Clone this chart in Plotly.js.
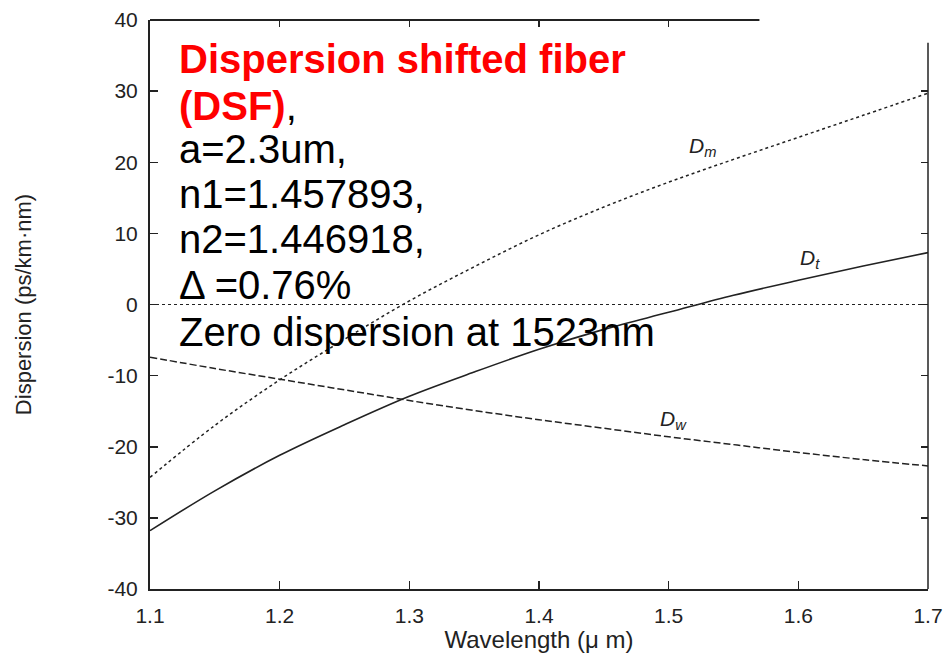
<!DOCTYPE html>
<html>
<head>
<meta charset="utf-8">
<script src="https://cdn.plot.ly/plotly-3.0.1.min.js"></script>
<style>html,body{margin:0;padding:0;background:#fff;}#chart{width:947px;height:653px;}</style>
</head>
<body>
<div id="chart"></div>
<script>
// Wavelength (µm)
var wavelength = [1.10, 1.15, 1.20, 1.25, 1.30, 1.35, 1.40, 1.45, 1.50, 1.55, 1.60, 1.65, 1.70];
// Material dispersion Dm
var Dm = [-24.3, -17.0, -10.6, -4.9, 0.5, 5.3, 9.8, 13.7, 17.2, 20.4, 23.5, 26.6, 29.7];
// Total dispersion Dt
var Dt = [-31.8, -26.2, -21.2, -16.9, -12.9, -9.5, -6.3, -3.5, -1.1, 1.3, 3.4, 5.4, 7.3];
// Waveguide dispersion Dw
var Dw = [-7.4, -9.0, -10.5, -12.0, -13.5, -14.9, -16.2, -17.4, -18.6, -19.7, -20.8, -21.8, -22.7];

var xTicks = [1.1, 1.2, 1.3, 1.4, 1.5, 1.6, 1.7];
var xTickText = ['1.1', '1.2', '1.3', '1.4', '1.5', '1.6', '1.7'];
var yTicks = [-40, -30, -20, -10, 0, 10, 20, 30, 40];
var yTickText = ['-40', '-30', '-20', '-10', '0', '10', '20', '30', '40'];
var infoLines = [
  '<b>Dispersion shifted fiber</b>',
  '<b>(DSF)</b><span style="color:#000">,</span>',
  'a=2.3um,',
  'n1=1.457893,',
  'n2=1.446918,',
  '\u0394 =0.76%',
  'Zero dispersion at 1523nm'
];
var infoColors = ['#ff0000', '#ff0000', '#000', '#000', '#000', '#000', '#000'];
var infoY = [34.5, 27.9, 21.9, 15.5, 9.2, 2.7, -3.9];

var FONT = 'Liberation Sans, Arial, Helvetica, sans-serif';
var INK = '#222';

var traces = [
  {x: wavelength, y: Dm, mode: 'lines', name: 'Dm', line: {color: INK, width: 1.5, dash: '3px,3px', shape: 'spline'}},
  {x: wavelength, y: Dt, mode: 'lines', name: 'Dt', line: {color: INK, width: 1.6, shape: 'spline'}},
  {x: wavelength, y: Dw, mode: 'lines', name: 'Dw', line: {color: INK, width: 1.5, dash: '7px,3px', shape: 'spline'}},
  {x: [1.1], y: [0], xaxis: 'x2', yaxis: 'y2', mode: 'markers', marker: {opacity: 0}, hoverinfo: 'skip', showlegend: false}
];

var annotations = [];
for (var i = 0; i < infoLines.length; i++) {
  annotations.push({
    x: 1.1208, y: infoY[i], xref: 'x', yref: 'y', xanchor: 'left', yanchor: 'middle',
    text: infoLines[i], showarrow: false,
    font: {family: FONT, size: 40, color: infoColors[i]}
  });
}
annotations.push({x: 1.526, y: 22.1, text: '<i>D<sub>m</sub></i>', showarrow: false, font: {family: FONT, size: 21, color: INK}});
annotations.push({x: 1.609, y: 6.4, text: '<i>D<sub>t</sub></i>', showarrow: false, font: {family: FONT, size: 21, color: INK}});
annotations.push({x: 1.504, y: -16.3, text: '<i>D<sub>w</sub></i>', showarrow: false, font: {family: FONT, size: 21, color: INK}});

var layout = {
  width: 947, height: 653,
  margin: {l: 150, r: 19, t: 20, b: 64},
  paper_bgcolor: '#fff', plot_bgcolor: '#fff',
  showlegend: false,
  font: {family: FONT, color: INK},
  xaxis: {
    range: [1.1, 1.7], tickvals: xTicks, ticktext: xTickText,
    ticks: 'inside', ticklen: 8, tickwidth: 1.5, tickcolor: INK,
    showline: true, linewidth: 2, linecolor: INK, showgrid: false, zeroline: false,
    tickfont: {size: 21, color: INK}, ticklabelstandoff: 7,
    title: {text: 'Wavelength (\u03bc m)', font: {size: 24, color: INK}, standoff: 4}
  },
  yaxis: {
    range: [-40, 40], tickvals: yTicks, ticktext: yTickText,
    ticks: 'inside', ticklen: 8, tickwidth: 1.5, tickcolor: INK,
    showline: true, linewidth: 2, linecolor: INK, showgrid: false, zeroline: false,
    tickfont: {size: 21, color: INK}, ticklabelstandoff: 6,
    title: {text: 'Dispersion (ps/km\u00b7nm)', font: {size: 22, color: INK}, standoff: 70}
  },
  xaxis2: {
    overlaying: 'x', side: 'top', anchor: 'y', range: [1.1, 1.7], tickvals: [1.2, 1.3, 1.4, 1.5],
    ticks: 'inside', ticklen: 7, tickwidth: 1.5, tickcolor: INK,
    showticklabels: false, showline: false, showgrid: false, zeroline: false
  },
  yaxis2: {
    overlaying: 'y', side: 'right', anchor: 'x', range: [-40, 40], tickvals: [-30, -20, -10, 0, 10, 20, 30],
    ticks: 'inside', ticklen: 7, tickwidth: 1.5, tickcolor: INK,
    showticklabels: false, showline: false, showgrid: false, zeroline: false
  },
  shapes: [
    {type: 'line', xref: 'x', yref: 'y', x0: 1.1, x1: 1.7, y0: 0, y1: 0, line: {color: INK, width: 1, dash: 'dot'}},
    {type: 'line', xref: 'x', yref: 'paper', x0: 1.1, x1: 1.57, y0: 1, y1: 1, line: {color: INK, width: 2}},
    {type: 'line', xref: 'paper', yref: 'y', x0: 1, x1: 1, y0: -40, y1: 36.8, line: {color: INK, width: 1.5}}
  ],
  annotations: annotations
};

Plotly.newPlot('chart', traces, layout, {displayModeBar: false, staticPlot: true});
</script>
</body>
</html>
